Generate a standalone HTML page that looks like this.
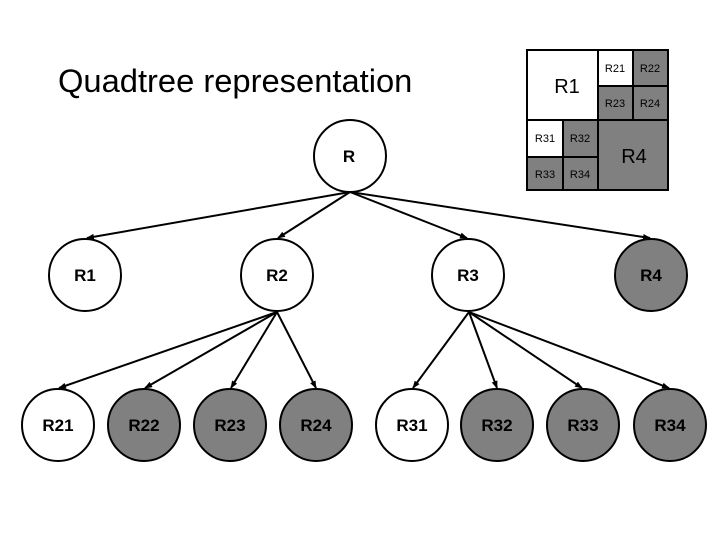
<!DOCTYPE html>
<html><head><meta charset="utf-8"><style>body{margin:0;background:#fff}svg{display:block}</style></head><body>
<svg width="720" height="540" xmlns="http://www.w3.org/2000/svg" font-family="Liberation Sans, Arial, sans-serif">
<defs><marker id="a" markerWidth="8" markerHeight="8" refX="7" refY="4" orient="auto" markerUnits="userSpaceOnUse"><path d="M0,1 L8,4 L0,7 z" fill="#000"/></marker></defs>
<text x="58" y="92" font-size="32.7">Quadtree representation</text>
<g stroke="#000" stroke-width="2">
<rect x="527" y="50" width="141" height="140" fill="#808080"/>
<rect x="527" y="50" width="71" height="70" fill="#fff"/>
<rect x="598" y="50" width="35" height="36" fill="#fff"/>
<rect x="527" y="120" width="36" height="37" fill="#fff"/>
<line x1="598" y1="50" x2="598" y2="190"/><line x1="527" y1="120" x2="668" y2="120"/>
<line x1="633" y1="50" x2="633" y2="120"/><line x1="598" y1="86" x2="668" y2="86"/>
<line x1="563" y1="120" x2="563" y2="190"/><line x1="527" y1="157" x2="598" y2="157"/>
</g>
<g font-size="11" text-anchor="middle">
<text x="615" y="72">R21</text><text x="650" y="72">R22</text><text x="615" y="107">R23</text><text x="650" y="107">R24</text>
<text x="545" y="142">R31</text><text x="580" y="142">R32</text><text x="545" y="178">R33</text><text x="580" y="178">R34</text>
</g>
<text x="567" y="93" font-size="20" text-anchor="middle">R1</text>
<text x="634" y="163" font-size="20" text-anchor="middle">R4</text>
<g stroke="#000" stroke-width="2" marker-end="url(#a)">
<line x1="350" y1="192" x2="87" y2="238"/><line x1="350" y1="192" x2="278" y2="238"/>
<line x1="350" y1="192" x2="467" y2="238"/><line x1="350" y1="192" x2="650" y2="238"/>
<line x1="277" y1="312" x2="59" y2="388"/><line x1="277" y1="312" x2="145" y2="388"/>
<line x1="277" y1="312" x2="231" y2="388"/><line x1="277" y1="312" x2="316" y2="388"/>
<line x1="469" y1="312" x2="413" y2="388"/><line x1="469" y1="312" x2="497" y2="388"/>
<line x1="469" y1="312" x2="582" y2="388"/><line x1="469" y1="312" x2="669" y2="388"/>
</g>
<g stroke="#000" stroke-width="2">
<circle cx="350" cy="156" r="36" fill="#fff"/>
<circle cx="85" cy="275" r="36" fill="#fff"/><circle cx="277" cy="275" r="36" fill="#fff"/>
<circle cx="468" cy="275" r="36" fill="#fff"/><circle cx="651" cy="275" r="36" fill="#808080"/>
<circle cx="58" cy="425" r="36" fill="#fff"/><circle cx="144" cy="425" r="36" fill="#808080"/>
<circle cx="230" cy="425" r="36" fill="#808080"/><circle cx="316" cy="425" r="36" fill="#808080"/>
<circle cx="412" cy="425" r="36" fill="#fff"/><circle cx="497" cy="425" r="36" fill="#808080"/>
<circle cx="583" cy="425" r="36" fill="#808080"/><circle cx="670" cy="425" r="36" fill="#808080"/>
</g>
<g font-size="17" font-weight="bold" text-anchor="middle">
<text x="349" y="162">R</text>
<text x="85" y="281">R1</text><text x="277" y="281">R2</text><text x="468" y="281">R3</text><text x="651" y="281">R4</text>
<text x="58" y="431">R21</text><text x="144" y="431">R22</text><text x="230" y="431">R23</text><text x="316" y="431">R24</text>
<text x="412" y="431">R31</text><text x="497" y="431">R32</text><text x="583" y="431">R33</text><text x="670" y="431">R34</text>
</g>
</svg>
</body></html>
